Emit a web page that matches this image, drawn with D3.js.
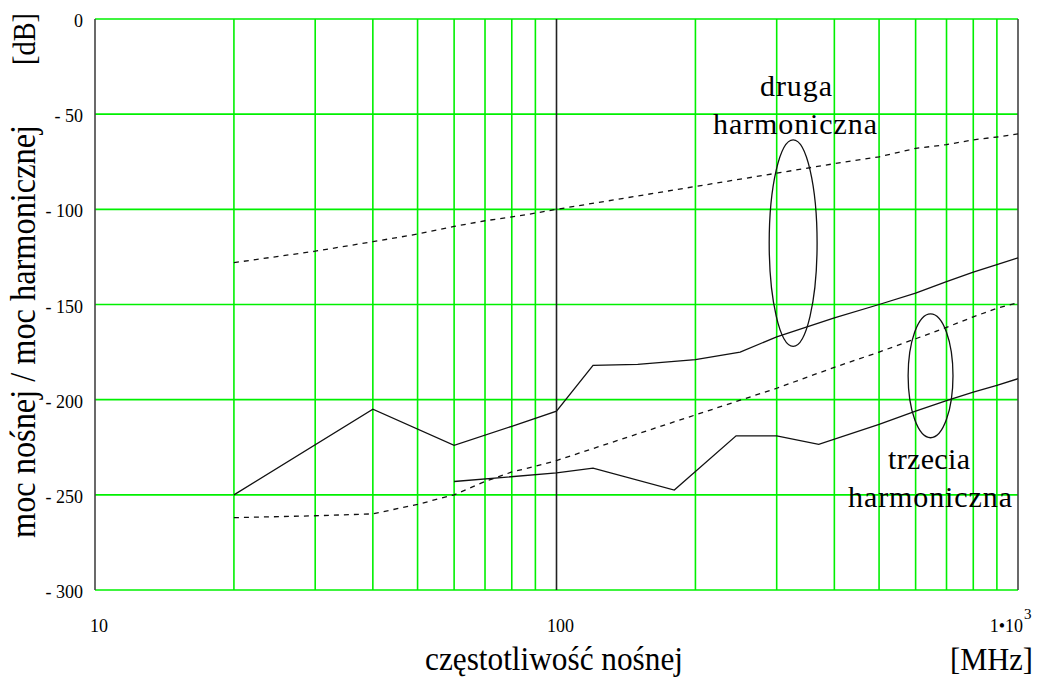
<!DOCTYPE html>
<html>
<head>
<meta charset="utf-8">
<script src="https://cdn.jsdelivr.net/npm/d3@7"></script>
<style>
  html, body { margin: 0; padding: 0; background: #fff; }
  svg { display: block; }
  text { font-family: "Liberation Serif", "Times New Roman", serif; fill: #000; }
</style>
</head>
<body>
<svg id="chart" width="1043" height="679"></svg>
<script>
// Carrier frequency [MHz] and carrier-to-harmonic power ratio [dB]
const freqSecondEst = [20, 30, 40, 50, 60, 70, 80, 90, 100, 200, 300, 400, 500, 600, 700, 800, 900, 1000];
const secondEst     = [-128, -122, -117, -113, -109, -106, -104, -102, -100, -88, -81, -76, -72.4, -68, -66, -63.5, -62, -60.4];

const freqSecondMeas = [20, 40, 60, 80, 100, 120, 150, 200, 250, 300, 400, 500, 600, 700, 800, 900, 1000];
const secondMeas     = [-250, -205, -224, -214, -206, -182, -181.5, -179, -175, -167, -157, -150, -144, -138, -133, -129, -125.5];

const freqThirdEst = [20, 30, 40, 50, 60, 70, 80, 90, 100, 200, 300, 400, 500, 600, 700, 800, 900, 1000];
const thirdEst     = [-262, -261, -260, -255, -250, -243, -238, -235, -232, -208, -194, -183, -175, -168, -162, -156.5, -152, -149];

const freqThirdMeas = [60, 100, 120, 180, 245, 300, 370, 500, 600, 700, 800, 900, 1000];
const thirdMeas     = [-243, -238.5, -236, -247.5, -219, -219, -223.5, -213, -206, -200.5, -196, -192.5, -189];

// Axis ticks
const yTicks = [0, -50, -100, -150, -200, -250, -300];
const xMinorGrid = [20, 30, 40, 50, 60, 70, 80, 90, 200, 300, 400, 500, 600, 700, 800, 900];
const xTickLabels = ["10", "100", "1•10"];
const xTickValues = [10, 100, 1000];

// Annotation ellipses (bounding boxes in data units) and their captions
const groupNames = ["druga harmoniczna", "trzecia harmoniczna"];
const ellipseFreqs = [[289, 367], [578, 723]];
const ellipseLevels = [[-63.5, -172], [-154.9, -220]];

const svg = d3.select("#chart");
const x = d3.scaleLog().domain([10, 1000]).range([95, 1018]);
const y = d3.scaleLinear().domain([-300, 0]).range([590, 19]);

const green = "#00f000";

// grid
const grid = svg.append("g");
grid.selectAll("line.h").data(yTicks).join("line")
  .attr("x1", x(10)).attr("x2", x(1000))
  .attr("y1", d => y(d)).attr("y2", d => y(d))
  .attr("stroke", green).attr("stroke-width", 1.6);
grid.selectAll("line.v").data(xMinorGrid).join("line")
  .attr("x1", d => x(d)).attr("x2", d => x(d))
  .attr("y1", y(0)).attr("y2", y(-300))
  .attr("stroke", green).attr("stroke-width", 1.6);

// axis frame lines
svg.append("line").attr("x1", x(10)).attr("x2", x(10)).attr("y1", y(0)).attr("y2", y(-300))
  .attr("stroke", "#444").attr("stroke-width", 1.6);
svg.append("line").attr("x1", x(100)).attr("x2", x(100)).attr("y1", y(0)).attr("y2", y(-300))
  .attr("stroke", "#222").attr("stroke-width", 1.6);
svg.append("line").attr("x1", x(1000)).attr("x2", x(1000)).attr("y1", y(0)).attr("y2", y(-300))
  .attr("stroke", "#444").attr("stroke-width", 1.6);

// y tick labels
svg.append("g").selectAll("text").data(yTicks).join("text")
  .attr("x", 83).attr("y", d => y(d) + 8)
  .attr("text-anchor", "end")
  .style("font-size", "18px")
  .text(d => d === 0 ? "0" : "- " + Math.abs(d));

// x tick labels
const xl = svg.append("g");
xTickValues.forEach((v, i) => {
  const t = xl.append("text")
    .attr("y", 632)
    .style("font-size", "18px");
  if (v === 1000) {
    t.attr("x", 1023).attr("text-anchor", "end").text(xTickLabels[i]);
    xl.append("text").attr("x", 1024).attr("y", 619).style("font-size", "15px").text("3");
  } else {
    t.attr("x", x(v) + 4).attr("text-anchor", "middle").text(xTickLabels[i]);
  }
});

// series
const line = d3.line().x(d => x(d[0])).y(d => y(d[1]));
const series = [
  { f: freqSecondEst, v: secondEst, dash: "5,5" },
  { f: freqSecondMeas, v: secondMeas, dash: null },
  { f: freqThirdEst, v: thirdEst, dash: "5,5" },
  { f: freqThirdMeas, v: thirdMeas, dash: null }
];
svg.append("g").selectAll("path").data(series).join("path")
  .attr("d", s => line(d3.zip(s.f, s.v)))
  .attr("fill", "none")
  .attr("stroke", "#111")
  .attr("stroke-width", 1.3)
  .attr("stroke-dasharray", s => s.dash);

// annotation ellipses
svg.append("g").selectAll("ellipse").data(d3.range(ellipseFreqs.length)).join("ellipse")
  .attr("cx", i => (x(ellipseFreqs[i][0]) + x(ellipseFreqs[i][1])) / 2)
  .attr("cy", i => (y(ellipseLevels[i][0]) + y(ellipseLevels[i][1])) / 2)
  .attr("rx", i => (x(ellipseFreqs[i][1]) - x(ellipseFreqs[i][0])) / 2)
  .attr("ry", i => (y(ellipseLevels[i][1]) - y(ellipseLevels[i][0])) / 2)
  .attr("fill", "none").attr("stroke", "#111").attr("stroke-width", 1.3);

// captions
const captionPos = [
  [{ cx: 796, by: 96, w: 72 }, { cx: 795, by: 134, w: 164 }],
  [{ cx: 929, by: 469, w: 82 }, { cx: 930, by: 507, w: 164 }]
];
groupNames.forEach((name, i) => {
  name.split(" ").forEach((word, j) => {
    const p = captionPos[i][j];
    svg.append("text")
      .attr("x", p.cx - p.w / 2).attr("y", p.by)
      .attr("textLength", p.w).attr("lengthAdjust", "spacing")
      .style("font-size", "30px")
      .text(word);
  });
});

// axis titles
svg.append("text").attr("x", 425).attr("y", 670)
  .attr("textLength", 258).attr("lengthAdjust", "spacingAndGlyphs")
  .style("font-size", "34px").text("częstotliwość nośnej");
svg.append("text").attr("x", 950).attr("y", 670)
  .attr("textLength", 83).attr("lengthAdjust", "spacingAndGlyphs")
  .style("font-size", "31px").text("[MHz]");
svg.append("text").attr("transform", "translate(35,538) rotate(-90)")
  .attr("textLength", 413).attr("lengthAdjust", "spacingAndGlyphs")
  .style("font-size", "36px").text("moc nośnej / moc harmonicznej");
svg.append("text").attr("transform", "translate(35,65) rotate(-90)")
  .attr("textLength", 52).attr("lengthAdjust", "spacingAndGlyphs")
  .style("font-size", "31px").text("[dB]");
</script>
</body>
</html>
